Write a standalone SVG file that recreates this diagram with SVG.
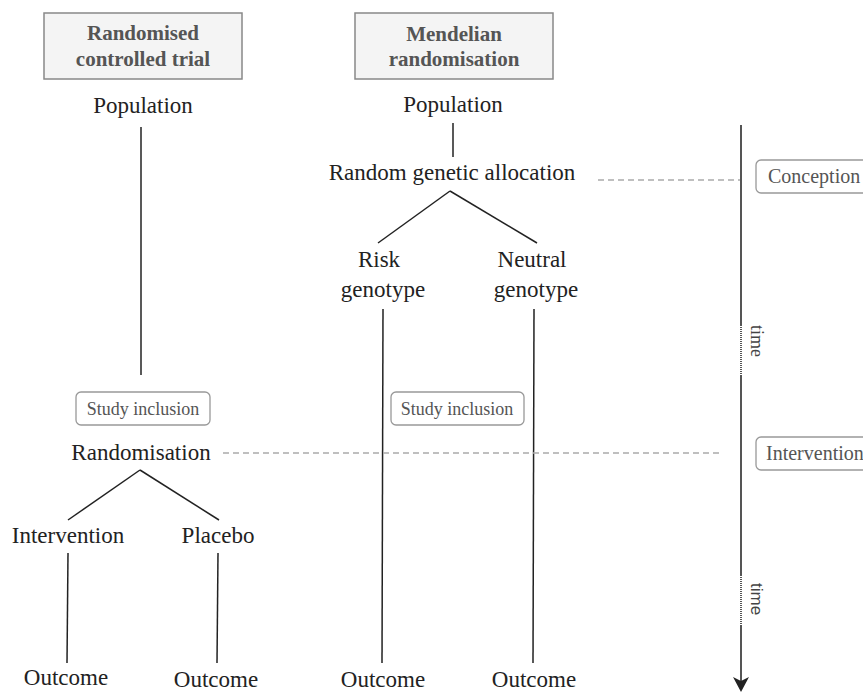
<svg xmlns="http://www.w3.org/2000/svg" width="863" height="693" viewBox="0 0 863 693">
<style>
.t{font-family:"Liberation Serif","Times New Roman",serif;font-size:23px;fill:#222;text-anchor:middle}
.h{font-family:"Liberation Serif","Times New Roman",serif;font-size:21px;font-weight:bold;fill:#555;text-anchor:middle}
.s{font-family:"Liberation Serif","Times New Roman",serif;font-size:18px;fill:#555;text-anchor:middle}
.m{font-family:"Liberation Serif","Times New Roman",serif;font-size:20px;fill:#555}
.hb{fill:#f4f4f4;stroke:#888;stroke-width:1.5}
.rb{fill:#fff;stroke:#999;stroke-width:1.3}
.ln{stroke:#222;stroke-width:1.5;fill:none}
.ds{stroke:#aaa;stroke-width:1.5;stroke-dasharray:6 4;fill:none}
.ax{stroke:#555;stroke-width:2;fill:none}
.dt{stroke:#555;stroke-width:2;stroke-dasharray:1 1;fill:none}
</style>
<g id="connectors">
<line class="ln" x1="141" y1="127" x2="141" y2="375"/>
<line class="ln" x1="140" y1="470" x2="68" y2="520"/>
<line class="ln" x1="140" y1="470" x2="219" y2="520"/>
<line class="ln" x1="68" y1="553" x2="67" y2="663"/>
<line class="ln" x1="218" y1="553" x2="217" y2="663"/>
<line class="ln" x1="453" y1="123" x2="453" y2="157"/>
<line class="ln" x1="450" y1="191" x2="378" y2="243"/>
<line class="ln" x1="450" y1="191" x2="537" y2="243"/>
<line class="ln" x1="383" y1="309" x2="382" y2="663"/>
<line class="ln" x1="534" y1="309" x2="533" y2="663"/>
<line class="ds" x1="598" y1="180" x2="741" y2="180"/>
<line class="ds" x1="223" y1="453" x2="723" y2="453"/>
</g>
<g id="time-axis">
<line class="ax" x1="741" y1="125" x2="741" y2="325"/>
<line class="dt" x1="741" y1="325" x2="741" y2="375"/>
<line class="ax" x1="741" y1="375" x2="741" y2="575"/>
<line class="dt" x1="741" y1="575" x2="741" y2="625"/>
<line class="ax" x1="741" y1="625" x2="741" y2="682"/>
<path d="M741,692 L733,677 L741,681 L749,677 Z" fill="#222"/>
<text transform="translate(751,325) rotate(90)" style="font-family:'Liberation Serif',serif;font-size:18px;fill:#444">time</text>
<text transform="translate(751,583) rotate(90)" style="font-family:'Liberation Sans',Arial,sans-serif;font-size:17px;fill:#444">time</text>
</g>
<g id="rct-header">
<rect class="hb" x="44" y="13" width="198" height="66"/>
<text class="h" x="143" y="40">Randomised</text>
<text class="h" x="143" y="66">controlled trial</text>
</g>
<g id="mr-header">
<rect class="hb" x="355" y="13" width="198" height="66"/>
<text class="h" x="454" y="41">Mendelian</text>
<text class="h" x="454" y="66">randomisation</text>
</g>
<g id="rct-population"><text class="t" x="143" y="113">Population</text></g>
<g id="mr-population"><text class="t" x="453" y="112">Population</text></g>
<g id="random-genetic-allocation"><text class="t" x="452" y="180">Random genetic allocation</text></g>
<g id="risk-genotype"><text class="t" x="379" y="267">Risk</text><text class="t" x="383" y="297">genotype</text></g>
<g id="neutral-genotype"><text class="t" x="532" y="267">Neutral</text><text class="t" x="536" y="297">genotype</text></g>
<g id="rct-study-inclusion">
<rect class="rb" x="76" y="392" width="134" height="33" rx="5"/>
<text class="s" x="143" y="415">Study inclusion</text>
</g>
<g id="mr-study-inclusion">
<rect class="rb" x="391" y="392" width="133" height="33" rx="5"/>
<text class="s" x="457" y="415">Study inclusion</text>
</g>
<g id="randomisation"><text class="t" x="141" y="460">Randomisation</text></g>
<g id="intervention"><text class="t" x="68" y="543">Intervention</text></g>
<g id="placebo"><text class="t" x="218" y="543">Placebo</text></g>
<g id="outcome-1"><text class="t" x="66" y="685">Outcome</text></g>
<g id="outcome-2"><text class="t" x="216" y="687">Outcome</text></g>
<g id="outcome-3"><text class="t" x="383" y="687">Outcome</text></g>
<g id="outcome-4"><text class="t" x="534" y="687">Outcome</text></g>
<g id="conception">
<rect class="rb" x="756" y="160" width="120" height="33" rx="5"/>
<text class="m" x="768" y="183">Conception</text>
</g>
<g id="intervention-time">
<rect class="rb" x="756" y="437" width="120" height="33" rx="5"/>
<text class="m" x="766" y="460">Intervention</text>
</g>
</svg>
